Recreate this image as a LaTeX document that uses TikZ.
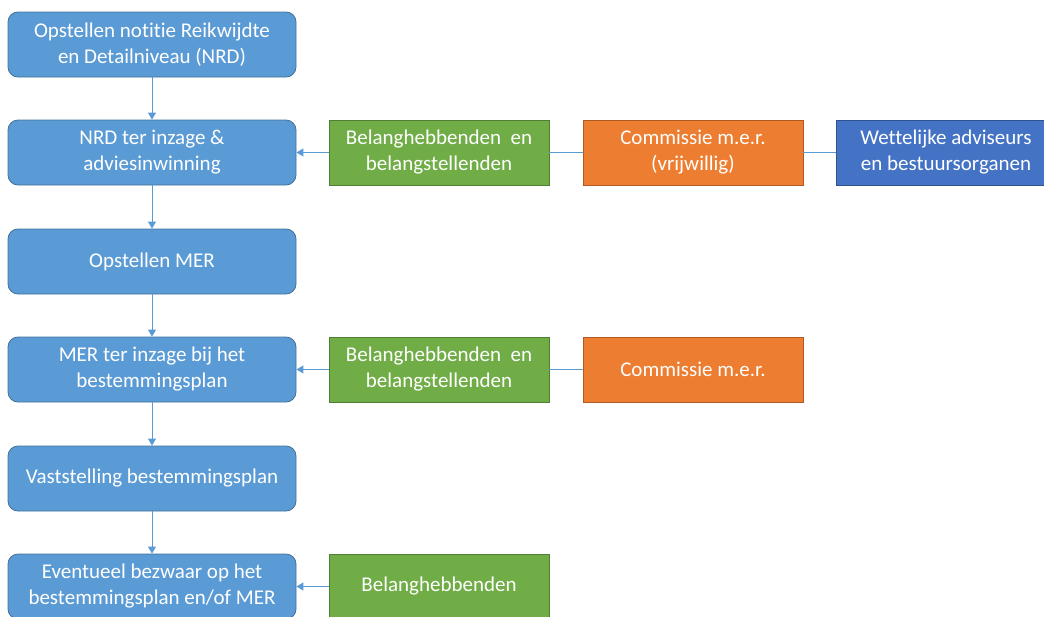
\documentclass[tikz,border=0pt]{standalone}
\usepackage{fontspec}
\setmainfont{Carlito}[Ligatures={NoCommon}]
\usetikzlibrary{arrows.meta}
\definecolor{bluebox}{HTML}{5B9BD5}
\definecolor{blueedge}{HTML}{41719C}
\definecolor{greenbox}{HTML}{70AD47}
\definecolor{greenedge}{HTML}{507E32}
\definecolor{orangebox}{HTML}{ED7D31}
\definecolor{orangeedge}{HTML}{AE5A21}
\definecolor{darkbox}{HTML}{4472C4}
\definecolor{darkedge}{HTML}{2F528F}
\definecolor{linecol}{HTML}{5B9BD5}
\tikzset{
  base/.style={font=\fontsize{21}{26}\selectfont, text=white, align=center, minimum height=65pt, inner sep=0pt, line width=0.8pt},
  stepbox/.style={base, fill=bluebox, draw=blueedge, rounded corners=10pt, minimum width=288pt},
  greenbox/.style={base, fill=greenbox, draw=greenedge, minimum width=220pt},
  orangebox/.style={base, fill=orangebox, draw=orangeedge, minimum width=220pt},
  darkbox/.style={base, fill=darkbox, draw=darkedge, minimum width=220pt},
  conn/.style={draw=linecol, line width=0.9pt},
  arr/.style={conn, -{Triangle[width=8pt,length=7pt]}}
}
\begin{document}
\begin{tikzpicture}[x=1pt,y=-1pt]
\useasboundingbox (0,0) rectangle (1044,616);
\node[stepbox] (s1) at (152,44.5) {Opstellen notitie Reikwijdte\\en Detailniveau (NRD)};
\node[stepbox] (s2) at (152,152.5) {NRD ter inzage \&\\adviesinwinning};
\node[stepbox] (s3) at (152,261.5) {Opstellen MER};
\node[stepbox] (s4) at (152,369.5) {MER ter inzage bij het\\bestemmingsplan};
\node[stepbox] (s5) at (152,478.5) {Vaststelling bestemmingsplan};
\node[stepbox] (s6) at (152,586.5) {Eventueel bezwaar op het\\bestemmingsplan en/of MER};

\node[greenbox] (g2) at (439,152.5) {Belanghebbenden\ \ en\\belangstellenden};
\node[orangebox] (o2) at (693,152.5) {Commissie m.e.r.\\(vrijwillig)};
\node[darkbox] (d2) at (946,152.5) {Wettelijke adviseurs\\en bestuursorganen};

\node[greenbox] (g4) at (439,369.5) {Belanghebbenden\ \ en\\belangstellenden};
\node[orangebox] (o4) at (693,369.5) {Commissie m.e.r.};

\node[greenbox] (g6) at (439,586.5) {Belanghebbenden};

\draw[arr] (s1) -- (s2);
\draw[arr] (s2) -- (s3);
\draw[arr] (s3) -- (s4);
\draw[arr] (s4) -- (s5);
\draw[arr] (s5) -- (s6);

\draw[arr] (g2) -- (s2);
\draw[conn] (g2) -- (o2);
\draw[conn] (o2) -- (d2);
\draw[arr] (g4) -- (s4);
\draw[conn] (g4) -- (o4);
\draw[arr] (g6) -- (s6);
\end{tikzpicture}
\end{document}
